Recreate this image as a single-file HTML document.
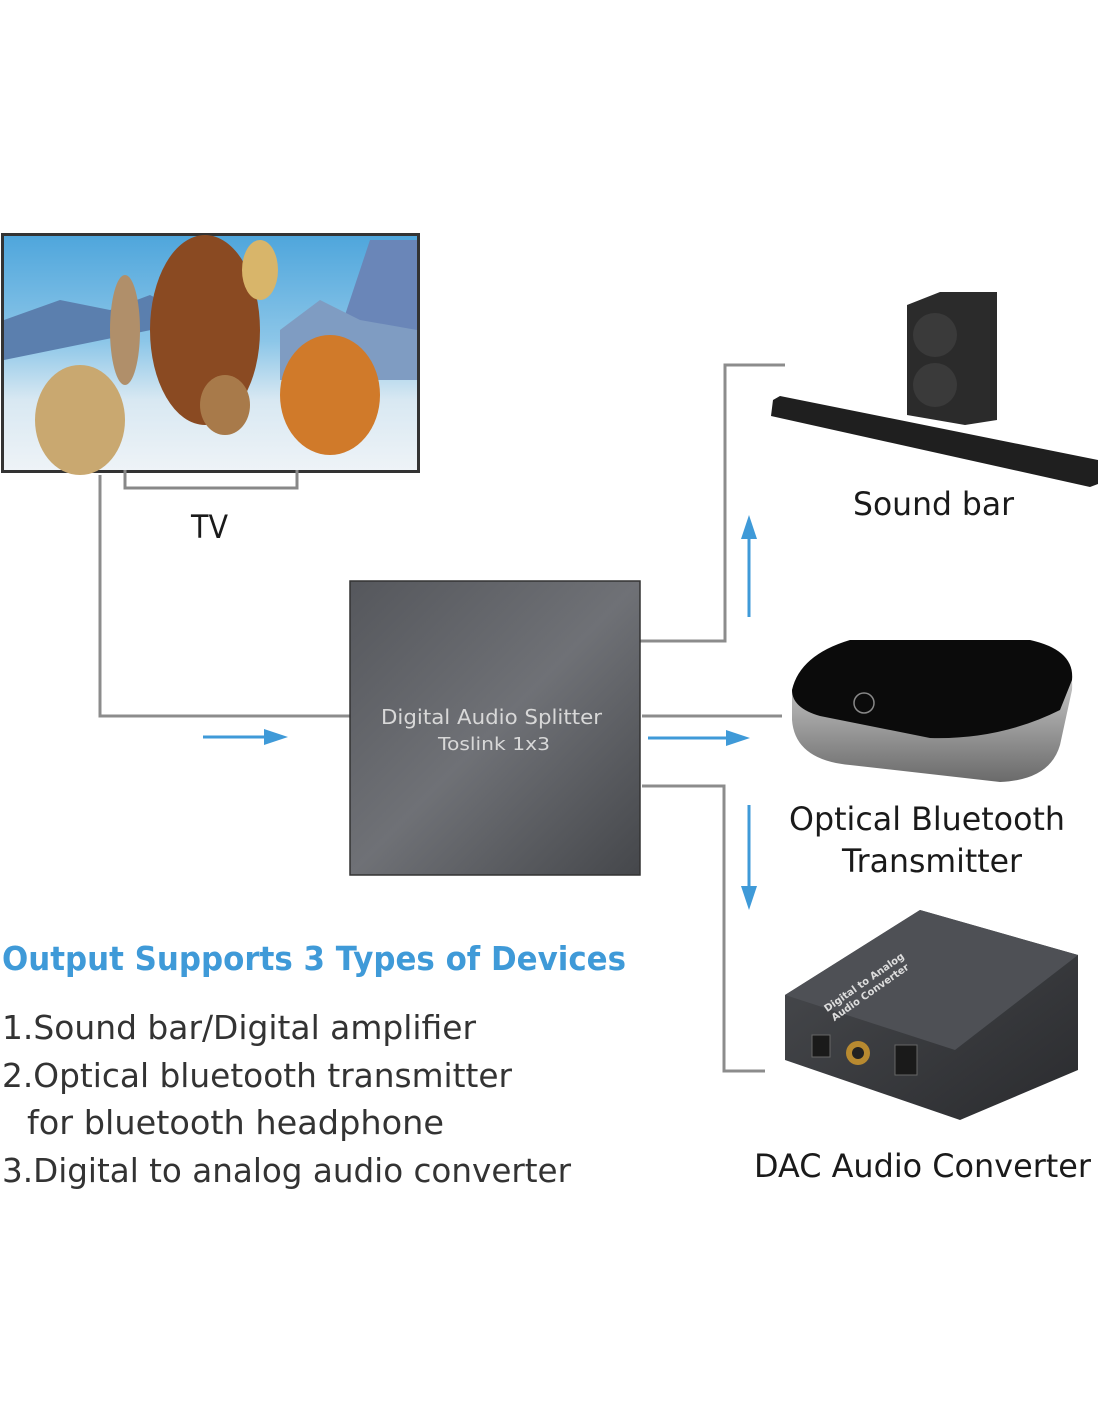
<!DOCTYPE html>
<html><head><style>
body{margin:0;background:#fff}
svg{display:block}
text{font-family:"DejaVu Sans","Liberation Sans",sans-serif}
</style></head><body>
<svg width="1100" height="1422" viewBox="0 0 1100 1422" xmlns="http://www.w3.org/2000/svg">
<defs>
<linearGradient id="sky" x1="0" y1="0" x2="0" y2="1"><stop offset="0" stop-color="#4fa6dc"/><stop offset="0.45" stop-color="#8cc6e8"/><stop offset="0.7" stop-color="#d8e8f2"/><stop offset="1" stop-color="#eef3f7"/></linearGradient>
<linearGradient id="box" x1="0" y1="0" x2="1" y2="1"><stop offset="0" stop-color="#55575c"/><stop offset="0.5" stop-color="#6f7176"/><stop offset="1" stop-color="#45474b"/></linearGradient>
<linearGradient id="bt" x1="0" y1="0" x2="0" y2="1"><stop offset="0" stop-color="#e8e8e8"/><stop offset="1" stop-color="#6a6a6a"/></linearGradient>
<linearGradient id="dac" x1="0" y1="0" x2="1" y2="1"><stop offset="0" stop-color="#4a4c50"/><stop offset="1" stop-color="#2a2b2e"/></linearGradient>
</defs>
<!-- TV -->
<rect x="1" y="233" width="419" height="240" fill="#333"/>
<rect x="4" y="236" width="413" height="234" fill="url(#sky)"/>
<path d="M4 320 L60 300 L110 310 L150 295 L200 320 L4 360Z" fill="#5b7fae"/>
<path d="M340 330 L370 240 L417 240 L417 340Z" fill="#6a86b8"/>
<path d="M280 330 L320 300 L360 320 L417 330 L417 380 L280 380Z" fill="#7f9cc2"/>
<ellipse cx="205" cy="330" rx="55" ry="95" fill="#8a4a22"/>
<ellipse cx="330" cy="395" rx="50" ry="60" fill="#d07a2a"/>
<ellipse cx="80" cy="420" rx="45" ry="55" fill="#c9a870"/>
<ellipse cx="125" cy="330" rx="15" ry="55" fill="#b08f6a"/>
<ellipse cx="225" cy="405" rx="25" ry="30" fill="#a87a4a"/>
<ellipse cx="260" cy="270" rx="18" ry="30" fill="#d8b56a"/>
<path d="M125 470 L125 488 L297 488 L297 470" fill="none" stroke="#888" stroke-width="3"/>
<!-- connectors -->
<g fill="none" stroke="#8c8c8c" stroke-width="3">
<path d="M100 475 V716 H350"/>
<path d="M640 641 H725 V365 H785"/>
<path d="M642 716 H782"/>
<path d="M642 786 H724 V1071 H765"/>
</g>
<!-- arrows -->
<g stroke="#3f9ad8" stroke-width="3" fill="#3f9ad8">
<line x1="203" y1="737" x2="270" y2="737"/><path d="M288 737 L264 729 L264 745Z" stroke="none"/>
<line x1="648" y1="738" x2="732" y2="738"/><path d="M750 738 L726 730 L726 746Z" stroke="none"/>
<line x1="749" y1="617" x2="749" y2="535"/><path d="M749 515 L741 539 L757 539Z" stroke="none"/>
<line x1="749" y1="805" x2="749" y2="890"/><path d="M749 910 L741 886 L757 886Z" stroke="none"/>
</g>
<!-- splitter -->
<rect x="350" y="581" width="290" height="294" fill="url(#box)" stroke="#333" stroke-width="1.5"/>
<text x="381" y="724" font-size="20" fill="#d8d8d8" textLength="221" lengthAdjust="spacingAndGlyphs" font-family="Liberation Sans">Digital Audio Splitter</text>
<text x="438" y="750" font-size="18" fill="#d8d8d8" textLength="112" lengthAdjust="spacingAndGlyphs" font-family="Liberation Sans">Toslink 1x3</text>
<!-- sound bar -->
<path d="M907 305 L940 292 L997 292 L997 420 L965 425 L907 415Z" fill="#2b2b2b"/>
<circle cx="935" cy="335" r="22" fill="#3a3a3a"/><circle cx="935" cy="385" r="22" fill="#3a3a3a"/>
<path d="M773 400 L780 396 L1098 460 L1098 484 L1090 487 L771 416Z" fill="#1f1f1f"/>
<!-- bluetooth -->
<path d="M792 690 Q800 655 850 640 L1030 640 Q1075 650 1072 690 L1060 745 Q1050 780 1000 782 L850 765 Q795 760 792 720Z" fill="url(#bt)"/>
<path d="M792 690 Q800 655 850 640 L1030 640 Q1075 650 1072 680 L1060 710 Q1000 740 930 738 L820 716 Q792 708 792 690Z" fill="#0b0b0b"/>
<circle cx="864" cy="703" r="10" fill="none" stroke="#888" stroke-width="1.5"/>
<!-- DAC -->
<path d="M785 995 L920 910 L1078 955 L1078 1070 L960 1120 L785 1060Z" fill="url(#dac)"/>
<path d="M785 995 L920 910 L1078 955 L955 1050Z" fill="#4e5055"/>
<circle cx="858" cy="1053" r="12" fill="#b88a30"/><circle cx="858" cy="1053" r="6" fill="#222"/>
<rect x="895" y="1045" width="22" height="30" fill="#1a1a1a" stroke="#666"/>
<rect x="812" y="1035" width="18" height="22" fill="#1a1a1a" stroke="#666"/>
<text x="866" y="985" font-size="10" fill="#ddd" font-weight="bold" transform="rotate(-35 866 985)" text-anchor="middle" font-family="Liberation Sans">Digital to Analog</text>
<text x="872" y="995" font-size="10" fill="#ddd" font-weight="bold" transform="rotate(-35 872 995)" text-anchor="middle" font-family="Liberation Sans">Audio Converter</text>
<!-- labels -->
<g fill="#1a1a1a" font-size="32" lengthAdjust="spacingAndGlyphs">
<text x="191" y="538" textLength="37" lengthAdjust="spacingAndGlyphs">TV</text>
<text x="853" y="515" textLength="161" lengthAdjust="spacingAndGlyphs">Sound bar</text>
<text x="789" y="830" textLength="276" lengthAdjust="spacingAndGlyphs">Optical Bluetooth</text>
<text x="842" y="872" textLength="180" lengthAdjust="spacingAndGlyphs">Transmitter</text>
<text x="754" y="1177" textLength="337" lengthAdjust="spacingAndGlyphs">DAC Audio Converter</text>
</g>
<text x="2" y="970" font-size="33" font-weight="bold" fill="#3f9ad8" textLength="624" lengthAdjust="spacingAndGlyphs">Output Supports 3 Types of Devices</text>
<g fill="#333" font-size="33">
<text x="2" y="1039" textLength="474" lengthAdjust="spacingAndGlyphs">1.Sound bar/Digital amplifier</text>
<text x="2" y="1087" textLength="510" lengthAdjust="spacingAndGlyphs">2.Optical bluetooth transmitter</text>
<text x="27" y="1134" textLength="417" lengthAdjust="spacingAndGlyphs">for bluetooth headphone</text>
<text x="2" y="1182" textLength="569" lengthAdjust="spacingAndGlyphs">3.Digital to analog audio converter</text>
</g>
</svg>
</body></html>
